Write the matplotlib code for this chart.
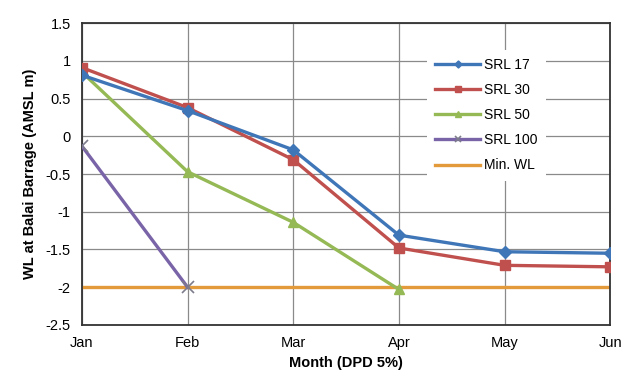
import matplotlib
matplotlib.use("Agg")
import matplotlib.pyplot as plt
from matplotlib import font_manager

months = ["Jan", "Feb", "Mar", "Apr", "May", "Jun"]
srl17 = [0.81, 0.34, -0.18, -1.31, -1.53, -1.55]
srl30 = [0.91, 0.38, -0.31, -1.48, -1.71, -1.73]
srl50 = [0.85, -0.47, -1.14, -2.03]
srl100 = [-0.13, -2.0]
min_wl = [-2.0, -2.0, -2.0, -2.0, -2.0, -2.0]

names = {f.name for f in font_manager.fontManager.ttflist}
family = "Liberation Sans Narrow" if "Liberation Sans Narrow" in names else "Liberation Sans"
plt.rcParams["font.family"] = [family, "DejaVu Sans"]

fig = plt.figure(figsize=(6.35, 3.85), dpi=100)
ax = fig.add_axes([0.129, 0.156, 0.832, 0.784])

x = list(range(len(months)))
lw = 2.4
ax.plot(x, min_wl, color="#E39A3B", lw=lw, label="Min. WL", zorder=2)
ax.plot(x[:len(srl100)], srl100, color="#7A64A8", lw=lw, marker="x", ms=8,
        mew=1.2, mec="#7C7C8C", label="SRL 100", zorder=3)
ax.plot(x[:len(srl50)], srl50, color="#95B955", lw=lw, marker="^", ms=7,
        label="SRL 50", zorder=4)
ax.plot(x, srl30, color="#C0504D", lw=lw, marker="s", ms=7.5,
        label="SRL 30", zorder=5)
ax.plot(x, srl17, color="#3F76B8", lw=lw, marker="D", ms=6,
        label="SRL 17", zorder=6)

ax.set_xlim(0, 5)
ax.set_ylim(-2.5, 1.5)
ax.set_xticks(x)
ax.set_xticklabels(months)
ax.set_yticks([1.5, 1, 0.5, 0, -0.5, -1, -1.5, -2, -2.5])
ax.set_yticklabels(["1.5", "1", "0.5", "0", "-0.5", "-1", "-1.5", "-2", "-2.5"])
ax.tick_params(axis="both", length=0, labelsize=10.5, pad=8)
ax.grid(True, color="#8A8A8A", lw=0.9)
ax.set_axisbelow(True)
for s in ax.spines.values():
    s.set_color("#333333")
    s.set_linewidth(1.3)

ax.set_xlabel("Month (DPD 5%)", fontsize=10.5, fontweight="bold", labelpad=4)
ax.set_ylabel("WL at Balai Barrage (AMSL m)", fontsize=10.5, fontweight="bold", labelpad=6)

handles, labels = ax.get_legend_handles_labels()
order = [4, 3, 2, 1, 0]
leg = ax.legend([handles[i] for i in order], [labels[i] for i in order],
                loc="upper left", bbox_to_anchor=(0.64, 0.935), frameon=True,
                fontsize=10, handlelength=3.2, handletextpad=0.3,
                labelspacing=0.8, borderpad=0.6, markerscale=0.6)
leg.get_frame().set_edgecolor("none")
leg.get_frame().set_facecolor("white")
leg.get_frame().set_alpha(1)

fig.savefig("out.png", dpi=100, facecolor="white")
